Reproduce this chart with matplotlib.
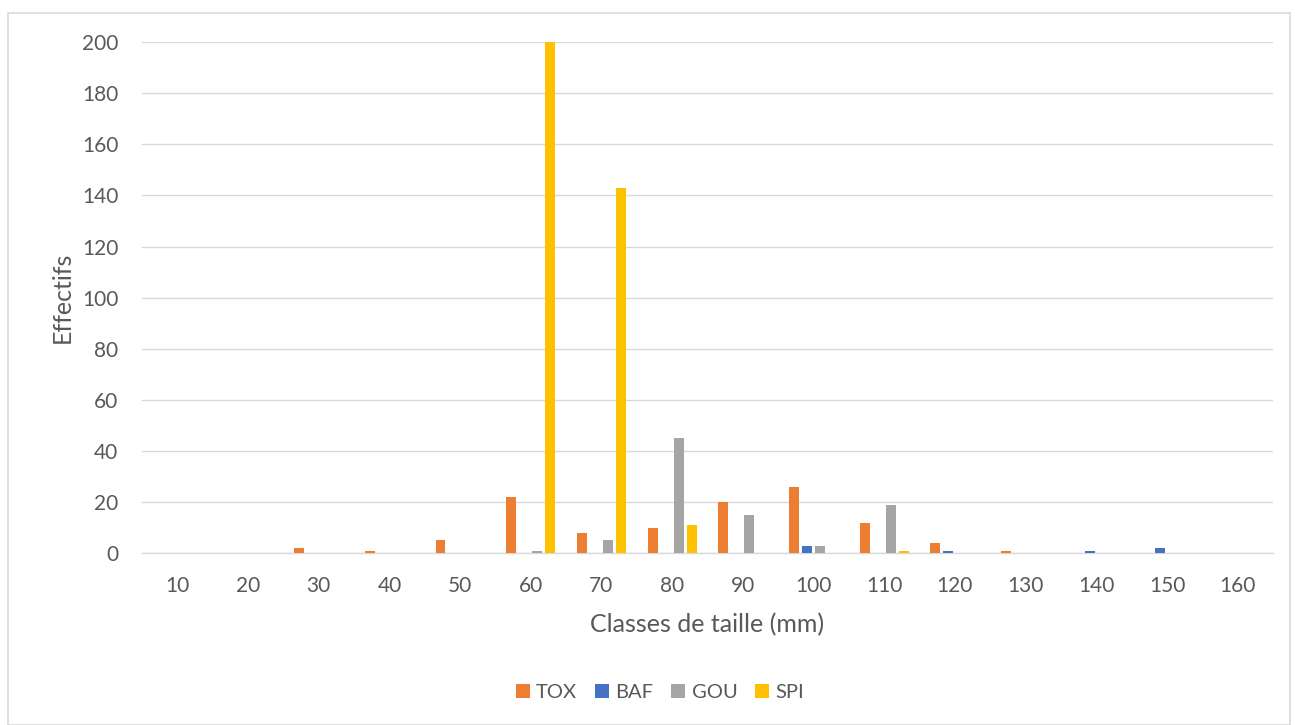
import matplotlib.pyplot as plt
import numpy as np
from matplotlib.patches import Rectangle

classes = [10, 20, 30, 40, 50, 60, 70, 80, 90, 100, 110, 120, 130, 140, 150, 160]
tox = [0, 0, 2, 1, 5, 22, 8, 10, 20, 26, 12, 4, 1, 0, 0, 0]
baf = [0, 0, 0, 0, 0, 0, 0, 0, 0, 3, 0, 1, 0, 1, 2, 0]
gou = [0, 0, 0, 0, 0, 1, 5, 45, 15, 3, 19, 0, 0, 0, 0, 0]
spi = [0, 0, 0, 0, 0, 200, 143, 11, 0, 0, 1, 0, 0, 0, 0, 0]

series = [("TOX", tox, "#ED7D31"), ("BAF", baf, "#4472C4"),
          ("GOU", gou, "#A5A5A5"), ("SPI", spi, "#FFC000")]

plt.rcParams["font.family"] = ["Lato", "DejaVu Sans"]
text_color = "#595959"

fig = plt.figure(figsize=(12.95, 7.25), dpi=100)
fig.patches.append(Rectangle((0.006, 0.0), 0.99, 0.982, transform=fig.transFigure,
                             fill=False, edgecolor="#D9D9D9", linewidth=1.2))
ax = fig.add_axes([0.1097, 0.237, 0.8733, 0.705])

x = np.arange(len(classes))
width = 0.14
step = 0.185
for i, (name, vals, color) in enumerate(series):
    offset = (i - 1.5) * step
    ax.bar(x + offset, vals, width, color=color, label=name, zorder=3)

ax.set_xlim(-0.5, len(classes) - 0.5)
ax.set_ylim(0, 200)
ax.set_yticks(np.arange(0, 201, 20))
ax.set_xticks(x)
ax.set_xticklabels([str(c) for c in classes])
ax.grid(axis="y", color="#D9D9D9", linewidth=1, zorder=0)
for side in ["top", "right", "left"]:
    ax.spines[side].set_visible(False)
ax.spines["bottom"].set_color("#D9D9D9")
ax.spines["bottom"].set_linewidth(1)
ax.tick_params(axis="both", length=0, labelsize=15, colors=text_color)
ax.tick_params(axis="x", pad=16.5)
ax.tick_params(axis="y", pad=17)

ax.set_xlabel("Classes de taille (mm)", fontsize=18, color=text_color, labelpad=12)
ax.set_ylabel("Effectifs", fontsize=18, color=text_color, labelpad=6)

fig.legend(loc="center", bbox_to_anchor=(0.5097, 0.045), ncol=4, frameon=False,
           fontsize=14.5, labelcolor=text_color, handlelength=0.7, handleheight=0.7,
           columnspacing=0.9, handletextpad=0.3)

fig.savefig("out.png", dpi=100)
